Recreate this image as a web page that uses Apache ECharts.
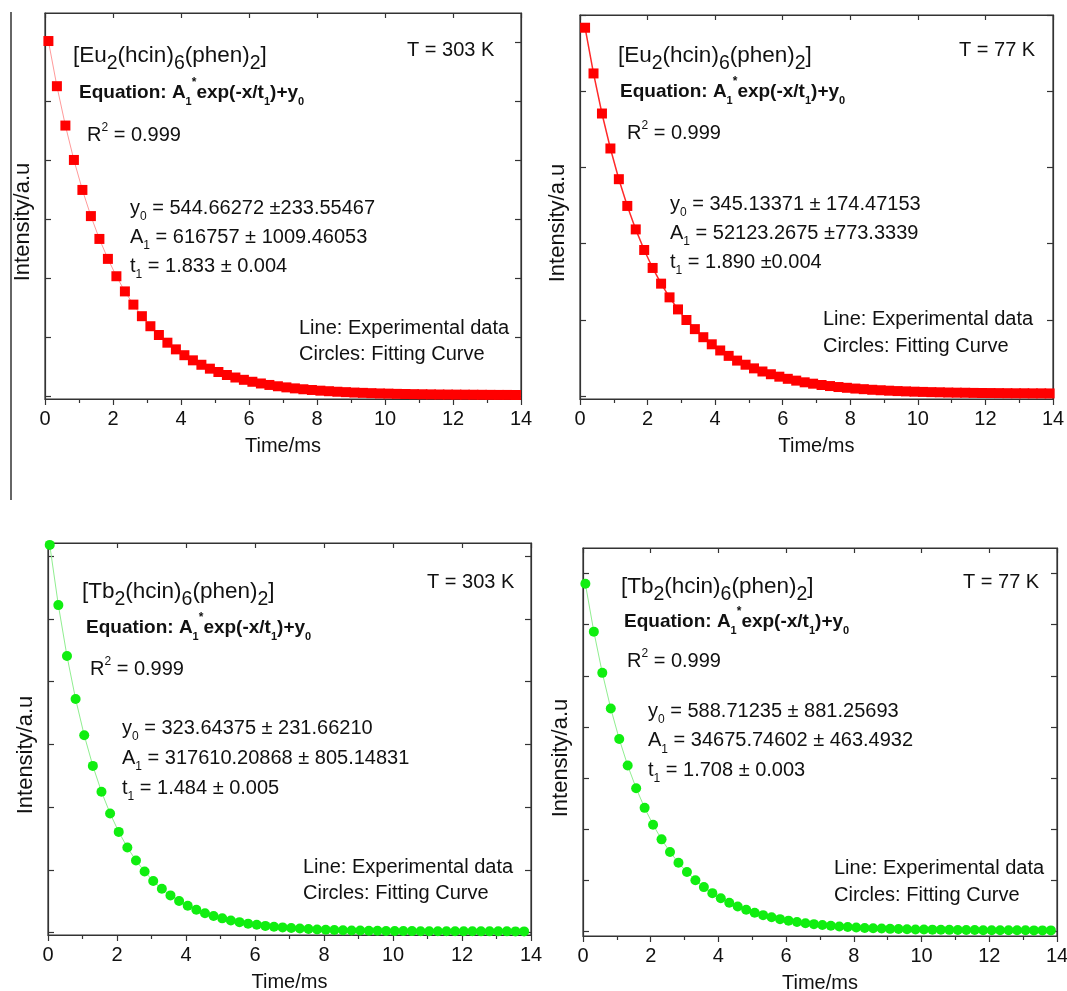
<!DOCTYPE html>
<html><head><meta charset="utf-8">
<script src="https://cdn.jsdelivr.net/npm/echarts@6/dist/echarts.min.js"></script>
<style>html,body{margin:0;padding:0;background:#fff}#c{width:1067px;height:991px}</style>
</head><body><div id="c"></div><script>
// ---- data ----
const euTime303 = [0.1,0.35,0.6,0.85,1.1,1.35,1.6,1.85,2.1,2.35,2.6,2.85,3.1,3.35,3.6,3.85,4.1,4.35,4.6,4.85,5.1,5.35,5.6,5.85,6.1,6.35,6.6,6.85,7.1,7.35,7.6,7.85,8.1,8.35,8.6,8.85,9.1,9.35,9.6,9.85,10.1,10.35,10.6,10.85,11.1,11.35,11.6,11.85,12.1,12.35,12.6,12.85,13.1,13.35,13.6,13.85];
const eu303 = [602500,526000,459300,401000,350200,305900,267200,233400,204000,178300,155900,136300,119300,104400,91400,80100,70200,61500,54000,47400,41700,36700,32400,28500,25200,22300,19800,17600,15700,14000,12500,11300,10100,9200,8300,7600,6900,6400,5900,5400,5100,4700,4500,4200,4000,3800,3600,3500,3400,3300,3200,3100,3000,2900,2900,2800];
const euTime77 = [0.15,0.4,0.65,0.9,1.15,1.4,1.65,1.9,2.15,2.4,2.65,2.9,3.15,3.4,3.65,3.9,4.15,4.4,4.65,4.9,5.15,5.4,5.65,5.9,6.15,6.4,6.65,6.9,7.15,7.4,7.65,7.9,8.15,8.4,8.65,8.9,9.15,9.4,9.65,9.9,10.15,10.4,10.65,10.9,11.15,11.4,11.65,11.9,12.15,12.4,12.65,12.9,13.15,13.4,13.65,13.9];
const eu77 = [48330,42330,37070,32480,28450,24940,21860,19160,16800,14740,12940,11360,9970,8770,7710,6780,5970,5260,4640,4100,3620,3210,2850,2530,2250,2010,1790,1610,1440,1300,1170,1070,970,890,810,750,690,640,600,560,530,500,480,450,430,420,400,390,380,370,360,350,350,340,340,330];
const tbTime303 = [0.05,0.3,0.55,0.8,1.05,1.3,1.55,1.8,2.05,2.3,2.55,2.8,3.05,3.3,3.55,3.8,4.05,4.3,4.55,4.8,5.05,5.3,5.55,5.8,6.05,6.3,6.55,6.8,7.05,7.3,7.55,7.8,8.05,8.3,8.55,8.8,9.05,9.3,9.55,9.8,10.05,10.3,10.55,10.8,11.05,11.3,11.55,11.8,12.05,12.3,12.55,12.8,13.05,13.3,13.55,13.8];
const tb303 = [309000,261000,220400,186200,157300,132900,112300,95000,80300,67900,57500,48700,41200,35000,29700,25200,21400,18200,15500,13300,11400,9700,8400,7200,6300,5400,4700,4200,3700,3300,2900,2600,2400,2100,2000,1800,1700,1600,1500,1400,1350,1300,1250,1200,1180,1150,1130,1110,1090,1080,1060,1050,1050,1040,1030,1030];
const tbTime77 = [0.07,0.32,0.57,0.82,1.07,1.32,1.57,1.82,2.07,2.32,2.57,2.82,3.07,3.32,3.57,3.82,4.07,4.32,4.57,4.82,5.07,5.32,5.57,5.82,6.07,6.32,6.57,6.82,7.07,7.32,7.57,7.82,8.07,8.32,8.57,8.82,9.07,9.32,9.57,9.82,10.07,10.32,10.57,10.82,11.07,11.32,11.57,11.82,12.07,12.32,12.57,12.82,13.07,13.32,13.57,13.82];
const tb77 = [34000,29320,25290,21810,18820,16230,14010,12090,10430,9010,7780,6720,5810,5020,4340,3750,3250,2820,2440,2120,1840,1600,1390,1210,1060,930,810,720,630,560,490,440,390,350,320,290,260,240,220,200,190,180,170,160,150,140,140,130,130,120,120,120,120,110,110,110];

const eu303Ticks = [0,100000,200000,300000,400000,500000,600000];
const eu77Ticks = [0,10000,20000,30000,40000,50000];
const tb303Ticks = [0,50000,100000,150000,200000,250000,300000];
const tb77Ticks = [0,5000,10000,15000,20000,25000,30000,35000];

const compounds = ['[Eu{cs|2}(hcin){cs|6}(phen){cs|2}]','[Eu{cs|2}(hcin){cs|6}(phen){cs|2}]','[Tb{cs|2}(hcin){cs|6}(phen){cs|2}]','[Tb{cs|2}(hcin){cs|6}(phen){cs|2}]'];
const temps = ['T = 303 K','T = 77 K','T = 303 K','T = 77 K'];
const fitY0 = ['544.66272 \u00b1233.55467','345.13371 \u00b1 174.47153','323.64375 \u00b1 231.66210','588.71235 \u00b1 881.25693'];
const fitA1 = ['616757 \u00b1 1009.46053','52123.2675 \u00b1773.3339','317610.20868 \u00b1 805.14831','34675.74602 \u00b1 463.4932'];
const fitT1 = ['1.833 \u00b1 0.004','1.890 \u00b10.004','1.484 \u00b1 0.005','1.708 \u00b1 0.003'];

// ---- layout / style ----
const FONT = "'Liberation Sans', Arial, Helvetica, sans-serif";
const INK = '#111';
const AX = '#333';
const panels = [
  {grid:{left:45, top:13, width:476, height:386}, t:euTime303, v:eu303, ticks:eu303Ticks, min:-4000, max:650000,
   sym:'rect', col:'#ff0000', line:'#ff9a9a', lw:1,
   txt:{c:[73,56], T:[407,50], e:[79,93], r:[87,135], p:[130,208,29], l:[299,328,26]}},
  {grid:{left:580, top:15, width:473, height:384}, t:euTime77, v:eu77, ticks:eu77Ticks, min:-400, max:50000,
   sym:'rect', col:'#ff0000', line:'#ff2a2a', lw:1.5,
   txt:{c:[618,56], T:[959,50], e:[620,92], r:[627,133], p:[670,204,29], l:[823,319,27]}},
  {grid:{left:48, top:543, width:483, height:392}, t:tbTime303, v:tb303, ticks:tb303Ticks, min:-1850, max:310500,
   sym:'circle', col:'#10ee10', line:'#90ee90', lw:1,
   txt:{c:[82,592], T:[427,582], e:[86,628], r:[90,669], p:[122,728,30], l:[303,867,26]}},
  {grid:{left:583, top:548, width:474, height:388}, t:tbTime77, v:tb77, ticks:tb77Ticks, min:-440, max:37500,
   sym:'circle', col:'#10ee10', line:'#90ee90', lw:1,
   txt:{c:[621,587], T:[963,582], e:[624,622], r:[627,661], p:[648,711,29.5], l:[834,868,27]}}
];

const rich = {
  cs:{fontSize:19.5, fontFamily:FONT, fill:INK, height:15, verticalAlign:'bottom'},
  bs:{fontSize:11, fontFamily:FONT, fontWeight:'bold', fill:INK, height:12, verticalAlign:'bottom'},
  bp:{fontSize:12, fontFamily:FONT, fontWeight:'bold', fill:INK, height:10, verticalAlign:'top'},
  sp:{fontSize:12, fontFamily:FONT, fill:INK, height:16, verticalAlign:'top'},
  sb:{fontSize:12, fontFamily:FONT, fill:INK, height:12, verticalAlign:'bottom'}
};
function txt(x, y, text, size, bold) {
  return {type:'text', x:x, y:y, silent:true, z:100,
    style:{text:text, rich:rich, fontSize:size, fontFamily:FONT, fontWeight:bold?'bold':'normal',
      fill:INK, align:'left', verticalAlign:'middle', lineHeight:30}};
}

const option = {animation:false, backgroundColor:'#fff', grid:[], xAxis:[], yAxis:[], series:[], graphic:[]};
option.graphic.push({type:'line', silent:true, shape:{x1:11, y1:12, x2:11, y2:500}, style:{stroke:AX, lineWidth:1.5}});

panels.forEach((p, i) => {
  option.grid.push(Object.assign({show:true, borderColor:AX, borderWidth:1.2, backgroundColor:'transparent', containLabel:false, outerBoundsMode:'none'}, p.grid));
  const xb = {type:'value', gridIndex:i, min:0, max:14, interval:2, position:'bottom',
    axisLine:{show:true, onZero:false, lineStyle:{color:AX, width:1.2}},
    axisTick:{show:true, inside:false, length:6, lineStyle:{color:AX, width:1.2}},
    minorTick:{show:true, splitNumber:2, length:4, lineStyle:{color:AX, width:1.2}},
    splitLine:{show:false},
    axisLabel:{show:true, fontSize:20, fontFamily:FONT, color:INK, margin:10},
    name:'Time/ms', nameLocation:'middle', nameGap:37,
    nameTextStyle:{fontSize:20, fontFamily:FONT, color:INK}};
  const xt = {type:'value', gridIndex:i, min:0, max:14, interval:2, position:'top',
    axisLine:{show:true, onZero:false, lineStyle:{color:AX, width:1.2}},
    axisTick:{show:true, inside:true, length:5, lineStyle:{color:AX, width:1.2}},
    splitLine:{show:false}, axisLabel:{show:false}};
  option.xAxis.push(xb, xt);
  const yl = {type:'value', gridIndex:i, min:p.min, max:p.max, position:'left',
    axisLine:{show:true, onZero:false, lineStyle:{color:AX, width:1.2}},
    axisTick:{show:true, inside:true, length:6, customValues:p.ticks, lineStyle:{color:AX, width:1.2}},
    axisLabel:{show:false, customValues:p.ticks}, splitLine:{show:false},
    name:'Intensity/a.u', nameLocation:'middle', nameGap:11, nameRotate:90,
    nameTextStyle:{fontSize:22, fontFamily:FONT, color:INK, padding:[0,32,0,0]}};
  const yr = {type:'value', gridIndex:i, min:p.min, max:p.max, position:'right',
    axisLine:{show:true, onZero:false, lineStyle:{color:AX, width:1.2}},
    axisTick:{show:true, inside:true, length:6, customValues:p.ticks, lineStyle:{color:AX, width:1.2}},
    axisLabel:{show:false, customValues:p.ticks}, splitLine:{show:false}};
  option.yAxis.push(yl, yr);
  option.series.push({type:'line', xAxisIndex:2*i, yAxisIndex:2*i,
    data:p.t.map((t, j) => [t, p.v[j]]),
    symbol:p.sym, symbolSize:10, showAllSymbol:true, clip:false,
    itemStyle:{color:p.col, borderWidth:0},
    lineStyle:{color:p.line, width:p.lw}, z:3});
  const T = p.txt;
  option.graphic.push(
    txt(T.c[0], T.c[1], compounds[i], 22.5, false),
    txt(T.T[0], T.T[1], temps[i], 20, false),
    txt(T.e[0], T.e[1], 'Equation: A{bs|1}{bp|*}exp(-x/t{bs|1})+y{bs|0}', 19, true),
    txt(T.r[0], T.r[1], 'R{sp|2} = 0.999', 20, false),
    txt(T.p[0], T.p[1], 'y{sb|0} = ' + fitY0[i], 20, false),
    txt(T.p[0], T.p[1] + T.p[2], 'A{sb|1} = ' + fitA1[i], 20, false),
    txt(T.p[0], T.p[1] + 2*T.p[2], 't{sb|1} = ' + fitT1[i], 20, false),
    txt(T.l[0], T.l[1], 'Line: Experimental data', 20, false),
    txt(T.l[0], T.l[1] + T.l[2], 'Circles: Fitting Curve', 20, false)
  );
});

const chart = echarts.init(document.getElementById('c'), null, {renderer:'canvas'});
chart.setOption(option);
</script></body></html>
